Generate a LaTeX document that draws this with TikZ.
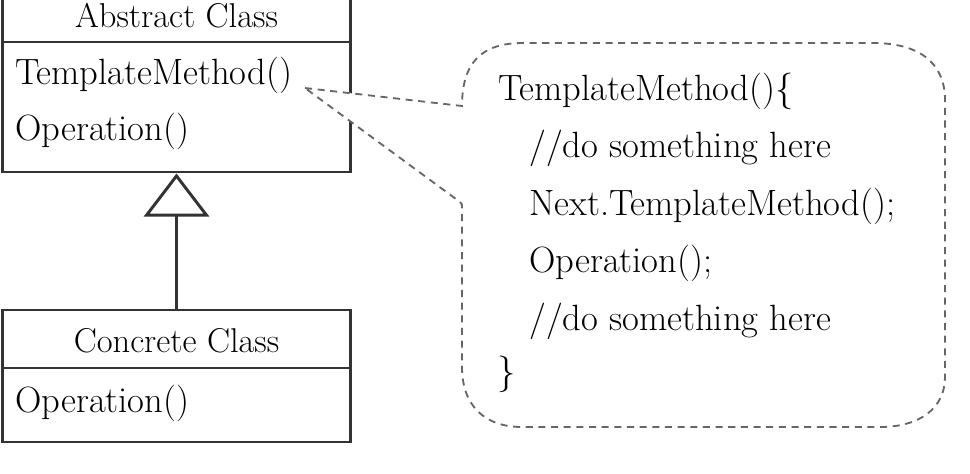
\documentclass[tikz,border=0pt]{standalone}
\usetikzlibrary{arrows.meta}
\begin{document}
\begin{tikzpicture}[x=0.025cm,y=-0.025cm,
  boxline/.style={draw=black!80,line width=2.1pt},
  classpart/.style={boxline,rectangle,inner sep=0pt,minimum width=8.675cm},
  txt/.style={inner sep=0pt,font=\fontsize{26}{30}\selectfont},
  nametxt/.style={inner sep=0pt,font=\fontsize{24.5}{28}\selectfont},
  callout/.style={draw=black!60,fill=white,line width=1.3pt,dash pattern=on 5pt off 4pt},
  gen/.style={boxline,-{Triangle[open,length=1.075cm,width=1.625cm]}}]
\useasboundingbox (0,0) rectangle (970,473);
% Abstract class
\node[classpart,minimum height=1.35cm] (absHead) at (176.5,15) {};
\node[classpart,minimum height=3.25cm] (absBody) at (176.5,107) {};
\node[nametxt,anchor=base] (absName) at (176.5,27.5) {Abstract Class};
\node[txt,anchor=base west] (tm) at (15,85) {TemplateMethod()};
\node[txt,anchor=base west] (op1) at (15,140) {Operation()};
% Concrete class
\node[classpart,minimum height=1.45cm] (concHead) at (176.5,339) {};
\node[classpart,minimum height=1.85cm] (concBody) at (176.5,405) {};
\node[nametxt,anchor=base] (concName) at (176.5,352) {Concrete Class};
\node[txt,anchor=base west] (op2) at (15,412) {Operation()};
% generalization
\draw[gen] (concHead.north) -- (absBody.south);
% callout
\coordinate (tip) at (305,88);
\draw[callout] (tip) -- (462,106)
  .. controls (462,62) and (482,43) .. (523,43) -- (873,43)
  .. controls (918,43) and (945,62) .. (945,100) -- (945,377)
  .. controls (945,408) and (920,427) .. (880,427) -- (522,427)
  .. controls (484,427) and (462,405) .. (462,367) -- (462,208)
  .. controls (462,204) .. (460,202) -- cycle;
\node[txt,anchor=base west] (c1) at (498,100) {TemplateMethod()\{};
\node[txt,anchor=base west] (c2) at (529,157) {//do something here};
\node[txt,anchor=base west] (c3) at (529,215) {Next.TemplateMethod();};
\node[txt,anchor=base west] (c4) at (529,272) {Operation();};
\node[txt,anchor=base west] (c5) at (529,330) {//do something here};
\node[txt,anchor=base west] (c6) at (497,383) {\}};
\end{tikzpicture}
\end{document}
